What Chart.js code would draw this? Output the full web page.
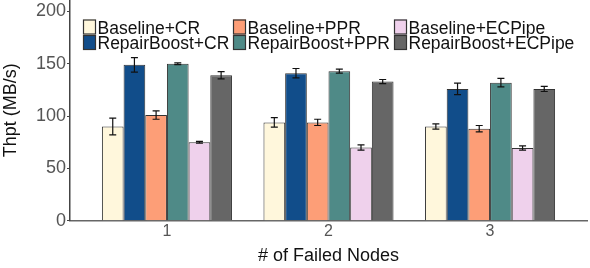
<!DOCTYPE html>
<html>
<head>
<meta charset="utf-8">
<script src="https://cdn.jsdelivr.net/npm/chart.js@4/dist/chart.umd.min.js"></script>
<style>
  html, body { margin: 0; padding: 0; background: #fff; }
  #wrap { width: 590px; height: 268px; }
</style>
</head>
<body>
<div id="wrap"><canvas id="grafico"></canvas></div>
<script>
const nodes = [1, 2, 3];
const seriesNames = ['Baseline+CR', 'RepairBoost+CR', 'Baseline+PPR', 'RepairBoost+PPR', 'Baseline+ECPipe', 'RepairBoost+ECPipe'];
const colors = ['#fff7dc', '#114d8a', '#fd9e77', '#4f8a87', '#efd1ec', '#666666'];

const baseCR = [90, 94, 90];
const boostCR = [149, 141, 126];
const basePPR = [101, 94, 88];
const boostPPR = [150, 143, 132];
const baseEC = [75, 70, 69.5];
const boostEC = [139, 133, 126];

const errBaseCR = [8, 4.5, 2.5];
const errBoostCR = [7, 4.5, 5.5];
const errBasePPR = [4, 3, 3];
const errBoostPPR = [0.8, 2, 4];
const errBaseEC = [0.8, 2.5, 2];
const errBoostEC = [3.5, 2, 2.5];

const yTicks = [0, 50, 100, 150, 200];

const values = [baseCR, boostCR, basePPR, boostPPR, baseEC, boostEC];
const errors = [errBaseCR, errBoostCR, errBasePPR, errBoostPPR, errBaseEC, errBoostEC];

const FONT = 'Liberation Sans, Arial, sans-serif';

// error bars drawn from the y scale
const errorBars = {
    id: 'errorBars',
    afterDatasetsDraw(chart) {
        const ctx = chart.ctx;
        const ys = chart.scales.y;
        ctx.save();
        ctx.strokeStyle = '#111';
        ctx.lineWidth = 1.2;
        chart.data.datasets.forEach((ds, i) => {
            const meta = chart.getDatasetMeta(i);
            meta.data.forEach((bar, j) => {
                const v = values[i][j], e = errors[i][j];
                const top = ys.getPixelForValue(v + e);
                const bot = ys.getPixelForValue(v - e);
                const x = bar.x;
                ctx.beginPath();
                ctx.moveTo(x, top); ctx.lineTo(x, bot);
                ctx.moveTo(x - 3.5, top); ctx.lineTo(x + 3.5, top);
                ctx.moveTo(x - 3.5, bot); ctx.lineTo(x + 3.5, bot);
                ctx.stroke();
            });
        });
        ctx.restore();
    }
};

// legend in 3 columns x 2 rows, inside the plot
const gridLegend = {
    id: 'gridLegend',
    afterDraw(chart) {
        const ctx = chart.ctx;
        const colX = [83, 233, 394];
        const rowY = [19.5, 35];
        ctx.save();
        ctx.font = '17.5px ' + FONT;
        ctx.textBaseline = 'alphabetic';
        chart.data.datasets.forEach((ds, i) => {
            const col = Math.floor(i / 2), row = i % 2;
            const x = colX[col], y = rowY[row];
            ctx.fillStyle = ds.backgroundColor;
            ctx.fillRect(x, y, 13, 15);
            ctx.strokeStyle = '#333';
            ctx.lineWidth = 1.2;
            ctx.strokeRect(x + 0.5, y + 0.5, 12, 14);
            ctx.fillStyle = '#111';
            ctx.fillText(ds.label, x + 14.5, y + 14);
        });
        ctx.restore();
    }
};

const datasets = seriesNames.map((name, i) => ({
    label: name,
    data: nodes.map((n, j) => ({ x: n, y: values[i][j] })),
    backgroundColor: colors[i],
    borderColor: '#333',
    borderWidth: 1,
    categoryPercentage: 0.805,
    barPercentage: 1.0
}));

new Chart(document.getElementById('grafico'), {
    type: 'bar',
    data: { datasets: datasets },
    options: {
        responsive: true,
        maintainAspectRatio: false,
        animation: false,
        layout: { padding: { top: 0, right: 3, bottom: 4, left: 0 } },
        plugins: {
            legend: { display: false },
            tooltip: { enabled: false }
        },
        scales: {
            x: {
                type: 'linear',
                offset: false,
                min: 0.4,
                max: 3.6,
                grid: { display: false, drawTicks: false, offset: false },
                border: { display: true, color: '#666', width: 1.5 },
                ticks: {
                    stepSize: 1,
                    includeBounds: false,
                    color: '#555',
                    font: { family: FONT, size: 16 },
                    padding: 1
                },
                title: {
                    display: true,
                    text: '# of Failed Nodes',
                    color: '#111',
                    font: { family: FONT, size: 18 },
                    padding: { top: 2, bottom: -3 }
                },
                afterFit(scale) { scale.height = 43.3; }
            },
            y: {
                min: 0,
                max: 211,
                afterBuildTicks(scale) { scale.ticks = yTicks.map(v => ({ value: v })); },
                grid: { drawOnChartArea: false, tickLength: 3, color: '#444' },
                border: { display: true, color: '#444', width: 1.5 },
                ticks: {
                    color: '#555',
                    font: { family: FONT, size: 18 },
                    padding: 1
                },
                title: {
                    display: true,
                    text: 'Thpt (MB/s)',
                    color: '#111',
                    font: { family: FONT, size: 18 },
                    padding: { top: 0, bottom: 2 }
                },
                afterFit(scale) {
                    scale.width = 70;
                    scale.paddingTop = 0;
                }
            }
        }
    },
    plugins: [errorBars, gridLegend]
});
</script>
</body>
</html>
